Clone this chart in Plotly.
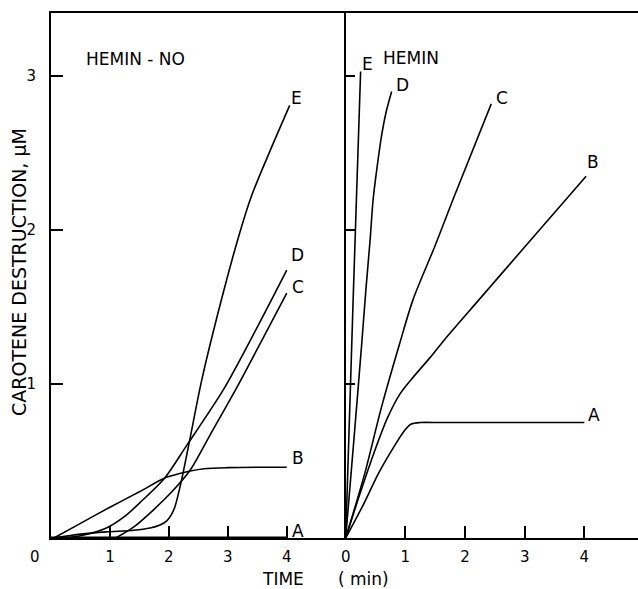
import plotly.graph_objects as go

# ---------------- data: left panel (HEMIN - NO) ----------------
L_A_x = [0.0, 4.0]
L_A_y = [0.005, 0.005]
L_B_x = [0.05, 0.5, 1.0, 1.5, 1.93, 2.2, 2.36, 2.6, 3.0, 3.5, 4.0]
L_B_y = [0.0, 0.095, 0.2, 0.3, 0.39, 0.42, 0.435, 0.45, 0.457, 0.46, 0.46]
L_C_x = [1.1, 1.4, 1.73, 2.05, 2.36, 2.7, 3.17, 3.6, 4.0]
L_C_y = [0.0, 0.07, 0.18, 0.3, 0.44, 0.67, 0.99, 1.3, 1.59]
L_D_x = [0.2, 0.5, 0.94, 1.25, 1.51, 1.93, 2.3, 2.92, 3.5, 4.0]
L_D_y = [0.0, 0.015, 0.065, 0.14, 0.23, 0.39, 0.6, 0.96, 1.37, 1.74]
L_E_x = [0.05, 0.5, 0.94, 1.4, 1.68, 1.85, 1.96, 2.04, 2.1, 2.2, 2.35, 2.56, 2.9, 3.2, 3.4, 3.7, 4.05]
L_E_y = [0.0, 0.025, 0.04, 0.05, 0.065, 0.085, 0.11, 0.15, 0.2, 0.35, 0.63, 1.03, 1.56, 1.98, 2.22, 2.5, 2.81]

# ---------------- data: right panel (HEMIN) ----------------
R_A_x = [0.0, 0.3, 0.55, 0.82, 0.99, 1.1, 1.25, 1.6, 4.0]
R_A_y = [0.0, 0.22, 0.42, 0.6, 0.7, 0.74, 0.75, 0.75, 0.75]
R_B_x = [0.0, 0.25, 0.49, 0.7, 0.9, 1.1, 1.41, 1.66, 2.24, 3.0, 4.03]
R_B_y = [0.0, 0.3, 0.57, 0.78, 0.93, 1.03, 1.17, 1.29, 1.55, 1.89, 2.35]
R_C_x = [0.0, 0.32, 0.6, 0.91, 1.13, 1.5, 1.8, 2.44]
R_C_y = [0.0, 0.42, 0.85, 1.27, 1.55, 1.9, 2.2, 2.82]
R_D_x = [0.0, 0.14, 0.27, 0.34, 0.41, 0.46, 0.53, 0.6, 0.68, 0.77]
R_D_y = [0.0, 0.65, 1.27, 1.62, 1.94, 2.2, 2.42, 2.61, 2.77, 2.9]
R_E_x = [0.0, 0.13, 0.25]
R_E_y = [0.0, 1.61, 3.03]

labels = ["A", "B", "C", "D", "E"]
left_series = [(L_A_x, L_A_y), (L_B_x, L_B_y), (L_C_x, L_C_y), (L_D_x, L_D_y), (L_E_x, L_E_y)]
right_series = [(R_A_x, R_A_y), (R_B_x, R_B_y), (R_C_x, R_C_y), (R_D_x, R_D_y), (R_E_x, R_E_y)]

# label anchor positions (data coords) for curve letters
left_label_pos = [(4.19, 0.045), (4.19, 0.52), (4.19, 1.63), (4.19, 1.84), (4.16, 2.86)]
right_label_pos = [(4.17, 0.8), (4.14, 2.44), (2.62, 2.86), (0.96, 2.94), (0.36, 3.08)]

x_ticks_left = [1, 2, 3, 4]
x_ticks_right = [0, 1, 2, 3, 4]
y_ticks = [1, 2, 3]

FONT = "DejaVu Sans"
W, H = 638, 589
ML, MR, MT, MB = 51, 0, 13, 51
PW, PH = W - ML - MR, H - MT - MB


def px(xp):
    return (xp - ML) / PW


def py(yp):
    return (H - MB - yp) / PH


fig = go.Figure()

for (xs, ys) in left_series:
    fig.add_trace(go.Scatter(x=xs, y=ys, mode="lines", xaxis="x", yaxis="y",
                             line=dict(color="black", width=1.6, shape="spline", smoothing=0.8),
                             showlegend=False, hoverinfo="skip"))
for (xs, ys) in right_series:
    fig.add_trace(go.Scatter(x=xs, y=ys, mode="lines", xaxis="x2", yaxis="y2",
                             line=dict(color="black", width=1.6, shape="spline", smoothing=0.8),
                             showlegend=False, hoverinfo="skip"))

ann = []
for lab, (x, y) in zip(labels, left_label_pos):
    ann.append(dict(x=x, y=y, xref="x", yref="y", text=lab, showarrow=False,
                    font=dict(family=FONT, size=17, color="black"), xanchor="center", yanchor="middle"))
for lab, (x, y) in zip(labels, right_label_pos):
    ann.append(dict(x=x, y=y, xref="x2", yref="y2", text=lab, showarrow=False,
                    font=dict(family=FONT, size=17, color="black"), xanchor="center", yanchor="middle"))

ann.append(dict(x=1.44, y=3.11, xref="x", yref="y", text="HEMIN - NO", showarrow=False,
                font=dict(family=FONT, size=17, color="black")))
ann.append(dict(x=1.1, y=3.12, xref="x2", yref="y2", text="HEMIN", showarrow=False,
                font=dict(family=FONT, size=17, color="black")))
# lone "0" at the origin of left panel
ann.append(dict(x=px(35), y=py(557), xref="paper", yref="paper", text="0",
                showarrow=False, font=dict(family=FONT, size=15, color="black"),
                xanchor="center", yanchor="middle"))
# axis titles
ann.append(dict(x=px(283), y=py(579), xref="paper", yref="paper", text="TIME",
                showarrow=False, font=dict(family=FONT, size=17, color="black"),
                xanchor="center", yanchor="middle"))
ann.append(dict(x=px(363), y=py(579), xref="paper", yref="paper", text="( min)",
                showarrow=False, font=dict(family=FONT, size=17, color="black"),
                xanchor="center", yanchor="middle"))
ann.append(dict(x=px(19), y=py(272), xref="paper", yref="paper",
                text="CAROTENE DESTRUCTION, μM", textangle=-90,
                showarrow=False, font=dict(family=FONT, size=19, color="black"),
                xanchor="center", yanchor="middle"))

split = (345.7 - ML) / PW
axis_common = dict(showgrid=False, zeroline=False, linecolor="black", ticks="inside",
                   tickcolor="black", tickfont=dict(family=FONT, size=15, color="black"))

fig.update_layout(
    width=W, height=H,
    margin=dict(l=ML, r=MR, t=MT, b=MB, autoexpand=False),
    paper_bgcolor="white", plot_bgcolor="white",
    showlegend=False,
    annotations=ann,
    xaxis=dict(domain=[0, split], range=[0, 5.0], tickvals=x_ticks_left,
               showline=True, linewidth=2, mirror=True, ticklen=12, tickwidth=1.5,
               ticklabelstandoff=4, anchor="y", **axis_common),
    yaxis=dict(domain=[0, 1], range=[0, 3.41], tickvals=y_ticks,
               showline=True, linewidth=2, ticklen=12, tickwidth=1.5,
               ticklabelstandoff=10, anchor="x", **axis_common),
    xaxis2=dict(domain=[split, 1], range=[0, 4.9], tickvals=x_ticks_right,
                showline=True, linewidth=2, mirror=True, ticklen=12, tickwidth=1.5,
                ticklabelstandoff=4, anchor="y2", **axis_common),
    yaxis2=dict(domain=[0, 1], range=[0, 3.41], tickvals=y_ticks, showticklabels=False,
                showline=True, linewidth=2, ticklen=9, tickwidth=1.5,
                anchor="x2", **axis_common),
)

fig.write_html("out.html",
               config={"displayModeBar": False},
               post_script="document.body.style.margin='0';document.body.style.overflow='hidden';")
